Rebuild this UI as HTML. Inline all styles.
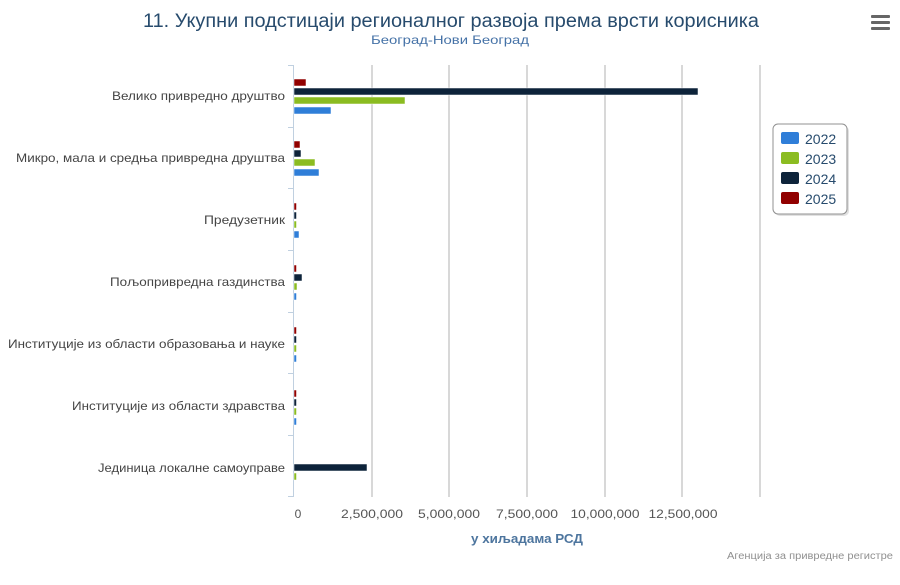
<!DOCTYPE html>
<html><head><meta charset="utf-8"><style>
body{margin:0;background:#fff}
svg{display:block;font-family:"Liberation Sans","DejaVu Sans",sans-serif}
</style></head><body>
<svg width="900" height="585" viewBox="0 0 900 585">
<rect width="900" height="585" fill="#fff"/>
<text x="451" y="27" text-anchor="middle" font-size="19" fill="#274b6d" textLength="616" lengthAdjust="spacingAndGlyphs">11. Укупни подстицаји регионалног развоја према врсти корисника</text>
<text x="450" y="44" text-anchor="middle" font-size="12" fill="#4572a7" textLength="158" lengthAdjust="spacingAndGlyphs">Београд-Нови Београд</text>
<g fill="#666"><rect x="871" y="15" width="19" height="3" rx="1"/><rect x="871" y="21" width="19" height="3" rx="1"/><rect x="871" y="27" width="19" height="3" rx="1"/></g>
<g stroke="#d8d8d8" stroke-width="2">
<line x1="372" y1="65" x2="372" y2="497"/><line x1="449" y1="65" x2="449" y2="497"/><line x1="527" y1="65" x2="527" y2="497"/><line x1="605" y1="65" x2="605" y2="497"/><line x1="682" y1="65" x2="682" y2="497"/><line x1="760" y1="65" x2="760" y2="497"/>
</g>
<g stroke="#c0d0e0" stroke-width="1">
<line x1="293.5" y1="65" x2="293.5" y2="497"/>
<line x1="288" y1="65.5" x2="294" y2="65.5"/><line x1="288" y1="127.5" x2="294" y2="127.5"/><line x1="288" y1="188.5" x2="294" y2="188.5"/><line x1="288" y1="250.5" x2="294" y2="250.5"/><line x1="288" y1="312.5" x2="294" y2="312.5"/><line x1="288" y1="373.5" x2="294" y2="373.5"/><line x1="288" y1="435.5" x2="294" y2="435.5"/><line x1="288" y1="496.5" x2="294" y2="496.5"/>
</g>
<g font-size="12" fill="#444" text-anchor="end">
<text x="285" y="100" textLength="173" lengthAdjust="spacingAndGlyphs">Велико привредно друштво</text>
<text x="285" y="162" textLength="269" lengthAdjust="spacingAndGlyphs">Микро, мала и средња привредна друштва</text>
<text x="285" y="224" textLength="81" lengthAdjust="spacingAndGlyphs">Предузетник</text>
<text x="285" y="286" textLength="175" lengthAdjust="spacingAndGlyphs">Пољопривредна газдинства</text>
<text x="285" y="348" textLength="277" lengthAdjust="spacingAndGlyphs">Институције из области образовања и науке</text>
<text x="285" y="410" textLength="213" lengthAdjust="spacingAndGlyphs">Институције из области здравства</text>
<text x="285" y="472" textLength="187" lengthAdjust="spacingAndGlyphs">Јединица локалне самоуправе</text>
</g>
<g stroke="#fff" stroke-width="0.5">
<!-- cat1 center 96 -->
<rect x="294" y="79" width="12" height="7" fill="#910000"/>
<rect x="294" y="88" width="404" height="7" fill="#0d233a"/>
<rect x="294" y="97" width="111" height="7" fill="#8bbc21"/>
<rect x="294" y="107" width="37" height="7" fill="#2f7ed8"/>
<!-- cat2 center 158 -->
<rect x="294" y="141" width="6" height="7" fill="#910000"/>
<rect x="294" y="150" width="7" height="7" fill="#0d233a"/>
<rect x="294" y="159" width="21" height="7" fill="#8bbc21"/>
<rect x="294" y="169" width="25" height="7" fill="#2f7ed8"/>
<!-- cat3 center 219 -->
<rect x="294" y="203" width="2.5" height="7" fill="#910000"/>
<rect x="294" y="212" width="2.5" height="7" fill="#0d233a"/>
<rect x="294" y="221" width="2.5" height="7" fill="#8bbc21"/>
<rect x="294" y="231" width="5" height="7" fill="#2f7ed8"/>
<!-- cat4 center 281 -->
<rect x="294" y="265" width="2.5" height="7" fill="#910000"/>
<rect x="294" y="274" width="8" height="7" fill="#0d233a"/>
<rect x="294" y="283" width="3" height="7" fill="#8bbc21"/>
<rect x="294" y="293" width="2.5" height="7" fill="#2f7ed8"/>
<!-- cat5 center 343 -->
<rect x="294" y="327" width="2.5" height="7" fill="#910000"/>
<rect x="294" y="336" width="2.5" height="7" fill="#0d233a"/>
<rect x="294" y="345" width="2.5" height="7" fill="#8bbc21"/>
<rect x="294" y="355" width="2.5" height="7" fill="#2f7ed8"/>
<!-- cat6 center 404 -->
<rect x="294" y="390" width="2.5" height="7" fill="#910000"/>
<rect x="294" y="399" width="2.5" height="7" fill="#0d233a"/>
<rect x="294" y="408" width="2.5" height="7" fill="#8bbc21"/>
<rect x="294" y="418" width="2.5" height="7" fill="#2f7ed8"/>
<!-- cat7 center 466 -->
<rect x="294" y="464" width="73" height="7" fill="#0d233a"/>
<rect x="294" y="473" width="2.5" height="7" fill="#8bbc21"/>
</g>
<g font-size="12" fill="#555" text-anchor="middle">
<text x="298" y="518">0</text>
<text x="372" y="518" textLength="62" lengthAdjust="spacingAndGlyphs">2,500,000</text>
<text x="449" y="518" textLength="62" lengthAdjust="spacingAndGlyphs">5,000,000</text>
<text x="527" y="518" textLength="62" lengthAdjust="spacingAndGlyphs">7,500,000</text>
<text x="605" y="518" textLength="69" lengthAdjust="spacingAndGlyphs">10,000,000</text>
<text x="683" y="518" textLength="69" lengthAdjust="spacingAndGlyphs">12,500,000</text>
</g>
<text x="527" y="543" text-anchor="middle" font-size="13" font-weight="bold" fill="#4d759e" textLength="112" lengthAdjust="spacingAndGlyphs">у хиљадама РСД</text>
<text x="893" y="559" text-anchor="end" font-size="10" fill="#909090" textLength="166" lengthAdjust="spacingAndGlyphs">Агенција за привредне регистре</text>
<rect x="775" y="126" width="74" height="90" rx="5" fill="#aaa" opacity="0.35"/>
<rect x="773" y="124" width="74" height="90" rx="5" fill="#fff" stroke="#909090" stroke-width="1"/>
<g font-size="14" fill="#274b6d">
<rect x="781" y="132" width="18" height="12" rx="2" fill="#2f7ed8"/><text x="805" y="144">2022</text>
<rect x="781" y="152" width="18" height="12" rx="2" fill="#8bbc21"/><text x="805" y="164">2023</text>
<rect x="781" y="172" width="18" height="12" rx="2" fill="#0d233a"/><text x="805" y="184">2024</text>
<rect x="781" y="192" width="18" height="12" rx="2" fill="#910000"/><text x="805" y="204">2025</text>
</g>
</svg>
</body></html>
